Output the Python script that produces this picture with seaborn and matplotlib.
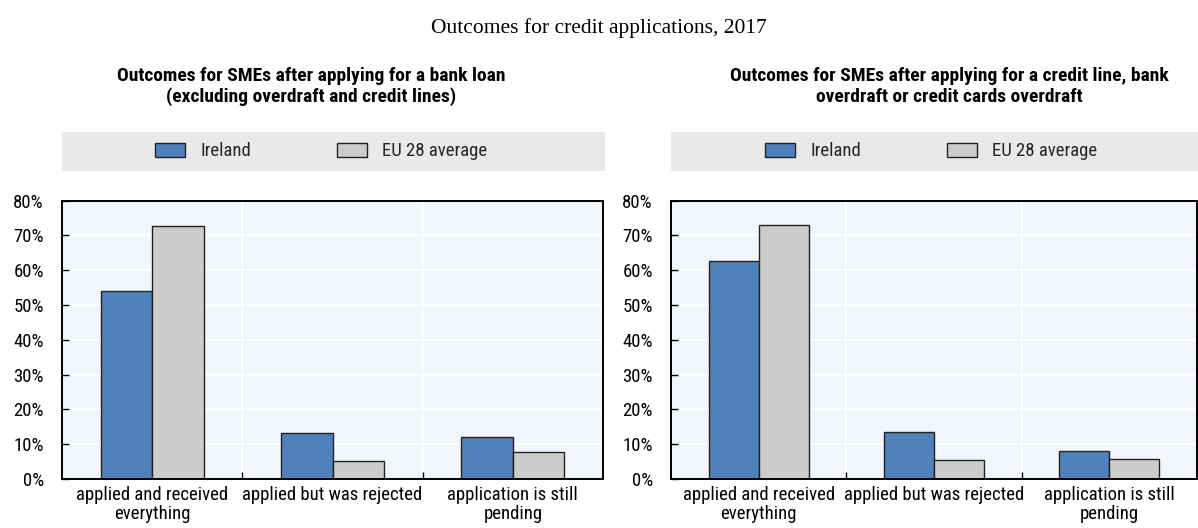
import matplotlib
matplotlib.use("Agg")
import matplotlib.pyplot as plt
from matplotlib import font_manager
from matplotlib.patches import Rectangle, Patch
from matplotlib.ticker import FixedLocator, FuncFormatter
import seaborn as sns
import pandas as pd

# ---- data -------------------------------------------------------------
categories = [
    "applied and received\neverything",
    "applied but was rejected",
    "application is still\npending",
]
series_names = ["Ireland", "EU 28 average"]

loan_ireland = [54.0, 13.1, 12.0]
loan_eu = [72.8, 5.1, 7.7]

credit_line_ireland = [62.5, 13.4, 7.9]
credit_line_eu = [73.0, 5.6, 5.7]

panel_titles = [
    "Outcomes for SMEs after applying for a bank loan\n(excluding overdraft and credit lines)",
    "Outcomes for SMEs after applying for a credit line, bank\noverdraft or credit cards overdraft",
]
main_title = "Outcomes for credit applications, 2017"

# ---- style ------------------------------------------------------------
sns.set_theme(style="white")


def first_font(names):
    available = {f.name for f in font_manager.fontManager.ttflist}
    for n in names:
        if n in available:
            return n
    return "DejaVu Sans"


SANS = first_font(["Liberation Sans Narrow", "Roboto Condensed", "Liberation Sans", "Arial"])
SERIF = first_font(["Liberation Serif", "DejaVu Serif"])
plt.rcParams["font.family"] = [SANS, "DejaVu Sans"]

FS = 13.5
BLUE = "#4F81BD"
GREY = "#CCCCCC"
EDGE = "#222222"
AX_BG = "#F0F6FB"
LEG_BG = "#E9E9E9"

W, H = 1198, 528
fig = plt.figure(figsize=(W / 100, H / 100), dpi=100)


def fx(px):
    return px / W


def fy(py):
    return 1 - py / H


# (Ireland values, EU values, axes left px, axes right px, title centre px, legend start px)
panels = [
    (loan_ireland, loan_eu, 62, 603, 311.5, 155),
    (credit_line_ireland, credit_line_eu, 671, 1197, 949.5, 765),
]
ax_top, ax_bot = 200.5, 479

for i, (ire, eu, x0, x1, tcx, lx) in enumerate(panels):
    ax = fig.add_axes([fx(x0), fy(ax_bot), fx(x1 - x0), (ax_bot - ax_top) / H])
    df = pd.DataFrame({
        "outcome": categories * 2,
        "value": list(ire) + list(eu),
        "series": [series_names[0]] * 3 + [series_names[1]] * 3,
    })
    sns.barplot(
        data=df, x="outcome", y="value", hue="series",
        order=categories, hue_order=series_names,
        palette=[BLUE, GREY], width=0.57, saturation=1,
        edgecolor=EDGE, linewidth=1.0, legend=False, ax=ax,
    )
    ax.set_facecolor(AX_BG)
    ax.set_xlim(-0.5, 2.5)
    ax.set_ylim(0, 80)
    ax.set_xlabel("")
    ax.set_ylabel("")
    ax.set_axisbelow(True)

    ax.yaxis.set_major_locator(FixedLocator(range(0, 81, 10)))
    ax.yaxis.set_major_formatter(FuncFormatter(lambda v, _: f"{int(v)}%"))
    ax.grid(axis="y", color="white", linewidth=1.3)

    # category separators: white vertical lines with short ticks on the base
    ax.xaxis.set_minor_locator(FixedLocator([0.5, 1.5]))
    ax.grid(axis="x", which="minor", color="white", linewidth=1.3)
    ax.grid(axis="x", which="major", visible=False)

    ax.tick_params(axis="y", which="major", direction="in", length=5, width=1,
                   color="black", pad=13, labelsize=FS, labelcolor="black",
                   left=True)
    ax.tick_params(axis="x", which="major", length=0, pad=5, labelsize=FS,
                   labelcolor="black")
    ax.tick_params(axis="x", which="minor", direction="in", length=5, width=1,
                   color="black", bottom=True)
    for lab in ax.get_xticklabels():
        lab.set_linespacing(1.05)

    for side in ["left", "right", "top", "bottom"]:
        ax.spines[side].set_visible(True)
        ax.spines[side].set_color("black")
        ax.spines[side].set_linewidth(1.4)

    # legend band
    fig.patches.append(Rectangle((fx(x0), fy(170.7)), fx(x1 - x0 + 2), (170.7 - 132) / H,
                                 transform=fig.transFigure, facecolor=LEG_BG,
                                 edgecolor="none", zorder=0))
    handles = [
        Patch(facecolor=BLUE, edgecolor=EDGE, linewidth=1.0, label=series_names[0]),
        Patch(facecolor=GREY, edgecolor=EDGE, linewidth=1.0, label=series_names[1]),
    ]
    fig.legend(handles=handles, loc="center left",
               bbox_to_anchor=(fx(lx), fy(151.5)), borderpad=0, borderaxespad=0,
               ncol=2, frameon=False, fontsize=FS, handlelength=1.6,
               handleheight=0.8, handletextpad=0.8, columnspacing=4.6)

    fig.text(fx(tcx), fy(86.5), panel_titles[i], ha="center", va="center",
             fontsize=14, fontweight="bold", linespacing=1.2, color="black")

fig.text(0.5, fy(28), main_title, ha="center", va="center", fontsize=15.5,
         family=SERIF, color="black")

fig.savefig("out.png", dpi=100)
